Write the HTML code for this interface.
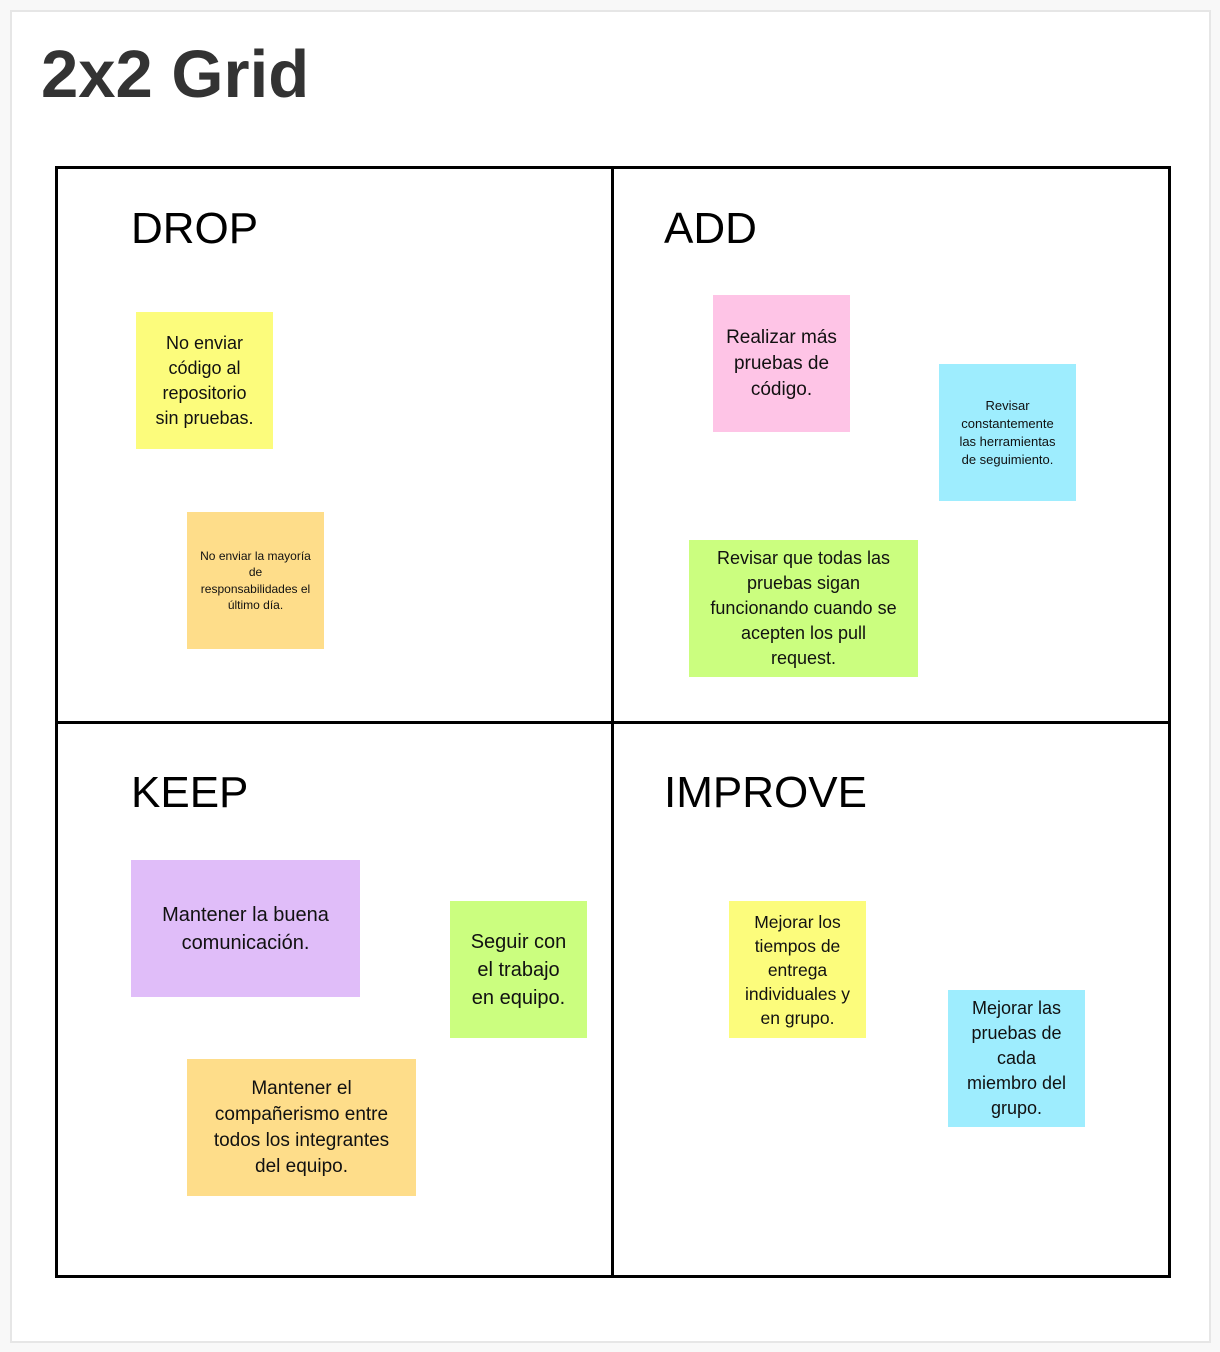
<!DOCTYPE html>
<html><head><meta charset="utf-8"><style>
body{margin:0;width:1220px;height:1352px;background:#f8f8f8;font-family:"Liberation Sans",sans-serif;position:relative;overflow:hidden}
.frame{position:absolute;left:10px;top:10px;width:1197px;height:1329px;background:#fff;border:2px solid #e6e6e6}
.t{position:absolute;left:41px;top:36px;font-size:67px;font-weight:bold;color:#333;letter-spacing:0px}
.l{position:absolute;background:#000}
.h{position:absolute;font-size:44px;color:#000;line-height:1}
.n{position:absolute;display:flex;align-items:center;justify-content:center;text-align:center;color:#111;box-sizing:border-box;padding:0 2px;white-space:nowrap}
</style></head><body>
<div class="frame"></div>
<div class="t">2x2 Grid</div>
<div class="l" style="left:55px;top:166px;width:1116px;height:3px"></div>
<div class="l" style="left:55px;top:1275px;width:1116px;height:3px"></div>
<div class="l" style="left:55px;top:721px;width:1116px;height:3px"></div>
<div class="l" style="left:55px;top:166px;width:3px;height:1112px"></div>
<div class="l" style="left:1168px;top:166px;width:3px;height:1112px"></div>
<div class="l" style="left:611px;top:166px;width:3px;height:1112px"></div>
<div class="h" style="left:131px;top:207px">DROP</div>
<div class="h" style="left:664px;top:207px">ADD</div>
<div class="h" style="left:131px;top:771px">KEEP</div>
<div class="h" style="left:664px;top:771px">IMPROVE</div>

<div class="n" style="left:136px;top:312px;width:137px;height:137px;background:#fcfc7c;font-size:18px;line-height:25px">No enviar<br>código al<br>repositorio<br>sin pruebas.</div>
<div class="n" style="left:187px;top:512px;width:137px;height:137px;background:#fedd8a;font-size:12px;line-height:16.5px">No enviar la mayoría<br>de<br>responsabilidades el<br>último día.</div>
<div class="n" style="left:713px;top:295px;width:137px;height:137px;background:#fec4e6;font-size:19px;line-height:26px">Realizar más<br>pruebas de<br>código.</div>
<div class="n" style="left:939px;top:364px;width:137px;height:137px;background:#9eedfe;font-size:13px;line-height:18px">Revisar<br>constantemente<br>las herramientas<br>de seguimiento.</div>
<div class="n" style="left:689px;top:540px;width:229px;height:137px;background:#cbfe7f;font-size:18px;line-height:25px">Revisar que todas las<br>pruebas sigan<br>funcionando cuando se<br>acepten los pull<br>request.</div>
<div class="n" style="left:131px;top:860px;width:229px;height:137px;background:#e0bdf9;font-size:20px;line-height:28px;align-items:flex-start;padding-top:41px">Mantener la buena<br>comunicación.</div>
<div class="n" style="left:450px;top:901px;width:137px;height:137px;background:#cbfe7f;font-size:20px;line-height:28px">Seguir con<br>el trabajo<br>en equipo.</div>
<div class="n" style="left:187px;top:1059px;width:229px;height:137px;background:#fedd8a;font-size:19px;line-height:26px">Mantener el<br>compañerismo entre<br>todos los integrantes<br>del equipo.</div>
<div class="n" style="left:729px;top:901px;width:137px;height:137px;background:#fcfc7c;font-size:17.5px;line-height:24px">Mejorar los<br>tiempos de<br>entrega<br>individuales y<br>en grupo.</div>
<div class="n" style="left:948px;top:990px;width:137px;height:137px;background:#9eedfe;font-size:18px;line-height:25px">Mejorar las<br>pruebas de<br>cada<br>miembro del<br>grupo.</div>
</body></html>
